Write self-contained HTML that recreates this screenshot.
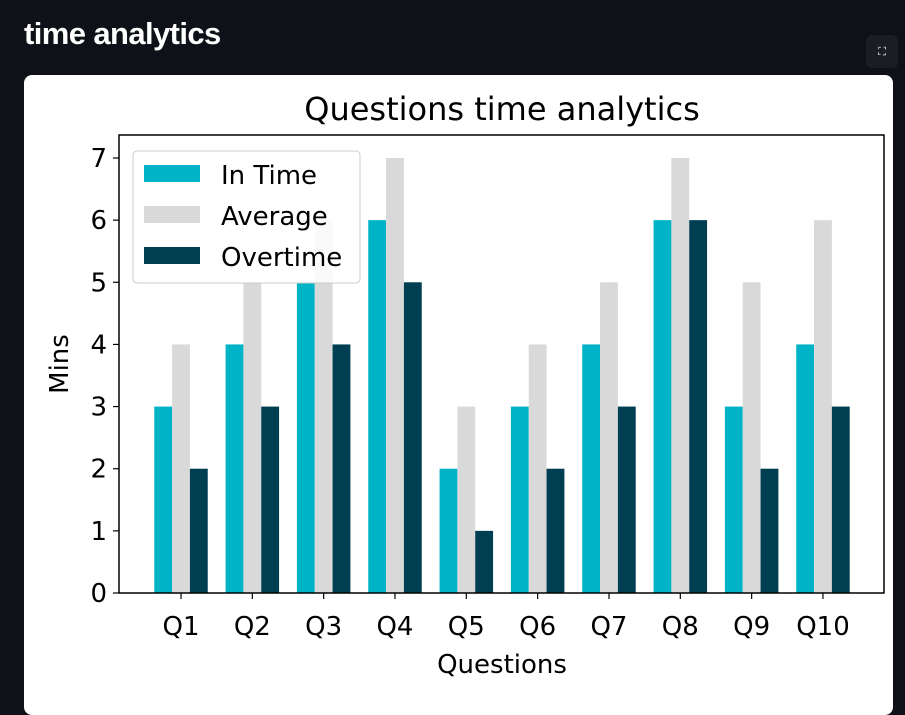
<!DOCTYPE html>
<html><head><meta charset="utf-8"><style>
body{margin:0;width:905px;height:698px;background:#0e1117;overflow:hidden;font-family:"DejaVu Sans","Liberation Sans",sans-serif;position:relative}
#h{position:absolute;left:24px;top:16px;color:#fff;font:bold 31px "Liberation Sans",sans-serif;letter-spacing:-0.6px}
#btn{position:absolute;left:866px;top:35px;width:32px;height:33px;background:#1a1d24;border-radius:6px;color:#fff;font-size:11px;text-align:center;line-height:33px}
#card{position:absolute;left:24px;top:75px;width:869px;height:640px;background:#fff;border-radius:8px}
svg{position:absolute;left:0;top:0}
</style></head><body>
<div id="h">time analytics</div>
<div id="btn">⛶</div>
<div id="card"></div>
<svg id="c" width="905" height="698"></svg>
<script>
const categories=["Q1","Q2","Q3","Q4","Q5","Q6","Q7","Q8","Q9","Q10"];
const inTime=[3,4,5,6,2,3,4,6,3,4];
const average=[4,5,6,7,3,4,5,7,5,6];
const overtime=[2,3,4,5,1,2,3,6,2,3];
const yTicks=[0,1,2,3,4,5,6,7];
const seriesNames=["In Time","Average","Overtime"];
const colors=["#00b3c6","#d9d9d9","#003f52"];
const svg=document.getElementById('c');const NS="http://www.w3.org/2000/svg";
function mk(t,a,txt){const e=document.createElementNS(NS,t);for(const k in a)e.setAttribute(k,a[k]);if(txt!=null)e.textContent=txt;svg.appendChild(e);return e;}
const L=119,R=884,T=135,B=593;
const y=v=>B-v*(B-158)/7;
const step=71.33;const x=i=>181+i*step;const bw=step*0.25;
const series=[inTime,average,overtime];
series.forEach((s,si)=>s.forEach((v,i)=>{
 const r=mk('rect',{x:x(i)+(si-1.5)*bw,y:y(v),width:bw,height:B-y(v),fill:colors[si]});
 
 
}));
mk('rect',{x:L,y:T,width:R-L,height:B-T,fill:'none',stroke:'#000','stroke-width':1.5});
yTicks.forEach(t=>{mk('line',{x1:L-6,x2:L,y1:y(t),y2:y(t),stroke:'#000','stroke-width':1.2});
 const e=mk('text',{x:L-12,y:y(t)+9,'text-anchor':'end','font-size':26},t);
 });
categories.forEach((c,i)=>{mk('line',{x1:x(i),x2:x(i),y1:B,y2:B+6,stroke:'#000','stroke-width':1.2});
 const e=mk('text',{x:x(i),y:B+42,'text-anchor':'middle','font-size':26},c);
 });
let e=mk('text',{x:502,y:120,'text-anchor':'middle','font-size':32},'Questions time analytics');

e=mk('text',{x:502,y:673,'text-anchor':'middle','font-size':26},'Questions');

e=mk('text',{x:68,y:364,'text-anchor':'middle','font-size':26,transform:'rotate(-90 68 364)'},'Mins');

e=mk('rect',{x:133,y:151,width:227,height:132,rx:4,fill:'#fff','fill-opacity':0.85,stroke:'#ccc'});

seriesNames.forEach((n,i)=>{mk('rect',{x:144,y:165+i*41,width:56,height:17,fill:colors[i]});
 const t=mk('text',{x:221,y:184+i*41,'font-size':26},n);
 });
</script>
</body></html>
